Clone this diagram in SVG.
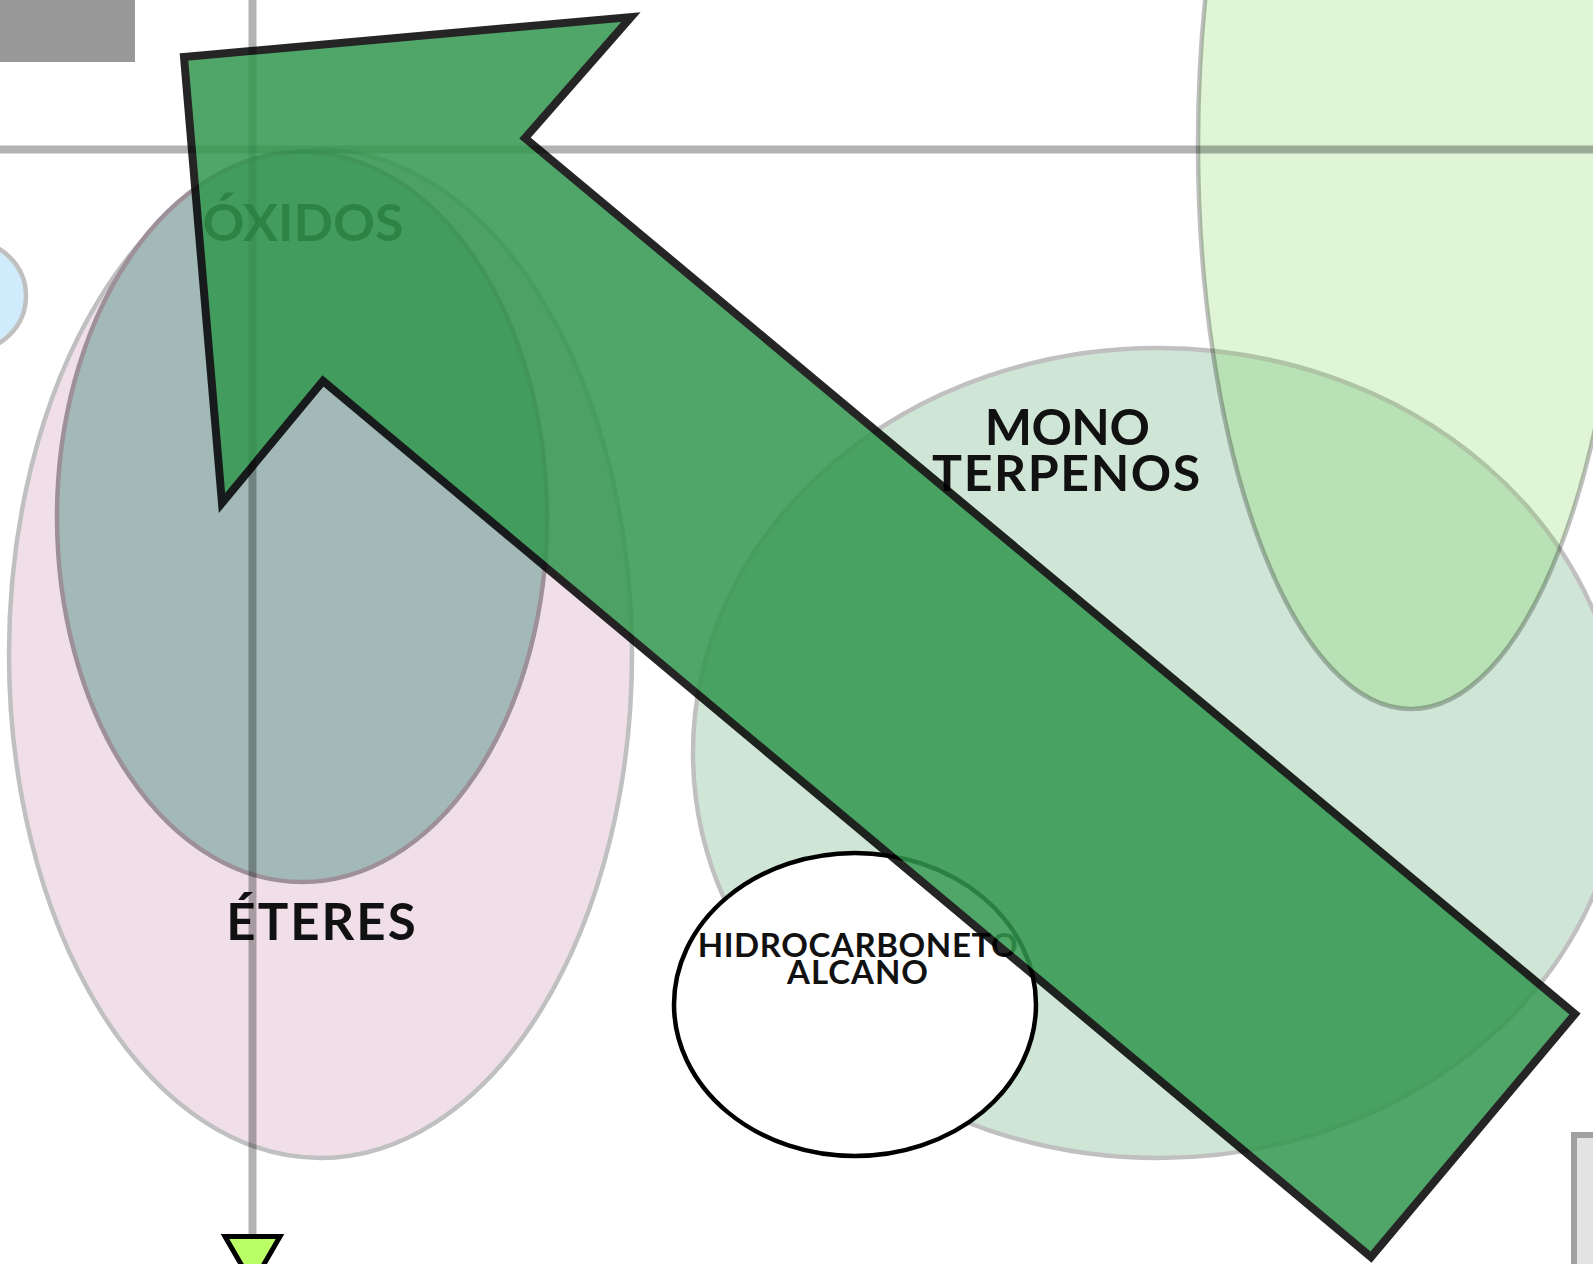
<svg xmlns="http://www.w3.org/2000/svg" width="1593" height="1264" viewBox="0 0 1593 1264">
<style>
.lbl{font-family:Lato,"Liberation Sans",sans-serif;font-weight:700;fill:#111;text-anchor:middle}
.soft{stroke:#000;stroke-opacity:0.25;stroke-width:4.5}
.guide{stroke:#000;stroke-opacity:0.3;stroke-width:8;fill:none}
</style>
<rect id="grayblock" x="0" y="0" width="135" height="62" fill="#999999"/>
<g id="nodes">
<g id="azul"><ellipse cx="-30" cy="296" rx="56" ry="55" fill="#d0ecfc" stroke="#c0c0c0" stroke-width="4.5"/></g>
<g id="eteres"><ellipse cx="320.5" cy="654" rx="311.5" ry="504" fill="#f0dfe9" stroke="#c0c0c0" stroke-width="4.5"/>
<text class="lbl" x="322" y="940" font-size="51" letter-spacing="2">ÉTERES</text></g>
<g id="oxidos"><ellipse cx="302" cy="517" rx="245" ry="365" fill="#a3b9b7" stroke="#9d9099" stroke-width="4.5"/>
<text class="lbl" x="303" y="241" font-size="52">ÓXIDOS</text></g>
<g id="monoterpenos"><ellipse cx="1158" cy="753" rx="465" ry="405" fill="#cfe6d6" stroke="#c0c0c0" stroke-width="4.5"/>
<text class="lbl" x="1067" y="445" font-size="50" letter-spacing="-0.5">MONO</text>
<text class="lbl" x="1067" y="491" font-size="50" letter-spacing="1.6">TERPENOS</text></g>
<g id="verde"><ellipse cx="1411" cy="145" rx="213" ry="564" fill="#6dd144" fill-opacity="0.22" class="soft"/></g>
<g id="hidrocarboneto"><ellipse cx="855" cy="1004.5" rx="181" ry="151.5" fill="#ffffff" stroke="#000" stroke-width="4.5"/>
<text class="lbl" x="858" y="957" font-size="33" letter-spacing="0.6">HIDROCARBONETO</text>
<text class="lbl" x="858" y="984" font-size="33" letter-spacing="1">ALCANO</text></g>
<g id="caixa"><rect x="1574" y="1135" width="100" height="200" fill="#e3e3e3" stroke="#a0a0a0" stroke-width="6"/></g>
</g>
<g id="connectors">
<line class="guide" x1="0" y1="149.5" x2="1593" y2="149.5"/>
<line class="guide" x1="252.5" y1="0" x2="252.5" y2="1234"/>
<polygon points="225,1236.5 280,1236.5 252.5,1284" fill="#bbff66" stroke="#000" stroke-width="5"/>
</g>
<g id="seta" opacity="0.85">
<polygon points="184,57 631,17 525,138 1575,1014 1371,1257 323,381 222,503" fill="#31974e" stroke="#000" stroke-width="8" stroke-linejoin="miter" stroke-miterlimit="10"/>
</g>
</svg>
